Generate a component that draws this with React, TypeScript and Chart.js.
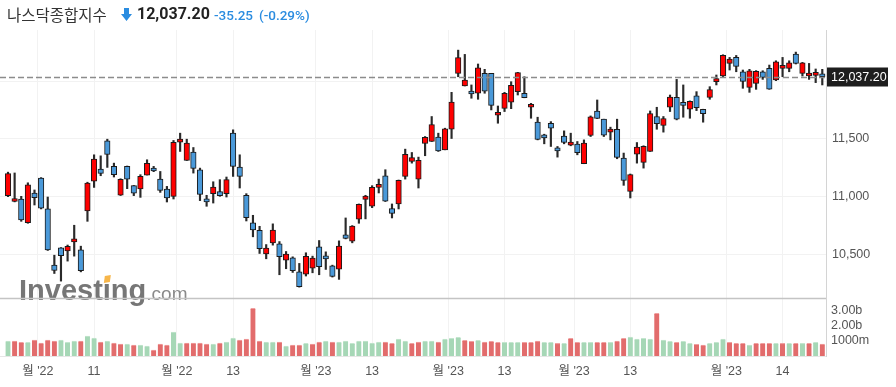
import React, { useEffect, useRef } from 'react';
import { Chart, registerables } from 'chart.js';

Chart.register(...registerables);

// ---- Data (Nasdaq Composite, daily, Oct 25 2022 – Apr 24 2023) ----
const opens = [
  11009, 10958, 10980, 10775, 11032, 11161, 10894, 10408, 10558, 10532,
  10609, 10540, 10877, 11135, 11239, 11483, 11262, 11014, 11262, 11095,
  11066, 11187, 11239, 11152, 11066, 11003, 11471, 11313, 11385, 11233,
  10971, 11026, 11043, 11026, 11549, 11256, 11012, 10773, 10710, 10506,
  10601, 10592, 10452, 10472, 10351, 10331, 10382, 10566, 10480, 10403,
  10374, 10670, 10615, 10805, 10977, 10917, 11081, 11181, 10897, 10937,
  11175, 11305, 11152, 11460, 11477, 11515, 11405, 11583, 12066, 11957,
  11902, 11894, 12066, 12066, 11704, 11764, 11816, 11908, 11894, 11773,
  11644, 11523, 11635, 11414, 11523, 11445, 11454, 11285, 11529, 11741,
  11670, 11558, 11583, 11334, 11046, 11368, 11296, 11391, 11693, 11615,
  11773, 11859, 11816, 11756, 11871, 11756, 11859, 11994, 12043, 12152,
  12204, 12080, 11945, 11980, 12080, 12109, 12009, 12109, 12109, 12233,
  12066, 12043, 12049, 12060,
];
const highs = [
  11212, 11205, 11003, 11120, 11058, 11165, 10997, 10494, 10560, 10582,
  10753, 10572, 11125, 11362, 11353, 11497, 11290, 11155, 11265, 11097,
  11190, 11319, 11262, 11218, 11089, 11486, 11549, 11497, 11425, 11247,
  11012, 11129, 11147, 11170, 11578, 11362, 11026, 10839, 10744, 10586,
  10765, 10612, 10526, 10480, 10423, 10515, 10486, 10621, 10523, 10408,
  10618, 10816, 10750, 10937, 11012, 11095, 11152, 11233, 10937, 11144,
  11411, 11382, 11342, 11520, 11693, 11549, 11592, 11902, 12267, 12230,
  11966, 12147, 12101, 12066, 11784, 11902, 11994, 12075, 12037, 11807,
  11687, 11540, 11649, 11434, 11569, 11549, 11477, 11491, 11698, 11836,
  11670, 11601, 11670, 11377, 11196, 11468, 11440, 11741, 11773, 11693,
  11879, 12014, 11966, 11828, 11908, 11756, 11951, 12052, 12227, 12204,
  12221, 12095, 12101, 12090, 12089, 12138, 12175, 12204, 12175, 12250,
  12161, 12152, 12104, 12101,
];
const lows = [
  11000, 10955, 10787, 10770, 10928, 10894, 10535, 10336, 10270, 10443,
  10486, 10350, 10787, 11080, 11181, 11253, 11170, 11010, 11069, 11009,
  10994, 11187, 11216, 11037, 10954, 10980, 11391, 11313, 11204, 10966,
  10917, 10945, 11003, 10997, 11175, 11075, 10790, 10653, 10509, 10463,
  10581, 10325, 10377, 10345, 10218, 10314, 10342, 10325, 10371, 10305,
  10285, 10635, 10601, 10770, 10808, 10905, 11032, 10958, 10816, 10894,
  11152, 11290, 11075, 11354, 11477, 11391, 11405, 11503, 12037, 11957,
  11851, 11842, 11894, 11750, 11635, 11736, 11761, 11879, 11855, 11678,
  11491, 11457, 11434, 11342, 11457, 11440, 11362, 11285, 11520, 11675,
  11520, 11491, 11328, 11098, 10989, 11290, 11247, 11391, 11583, 11558,
  11736, 11664, 11687, 11678, 11744, 11644, 11842, 11966, 12037, 12095,
  12080, 11937, 11902, 11928, 12014, 11928, 12003, 12037, 12080, 12147,
  12043, 12014, 11986, 11966,
];
const closes = [
  11199, 10972, 10800, 11102, 10992, 10900, 10540, 10362, 10490, 10570,
  10625, 10360, 11118, 11325, 11200, 11365, 11190, 11150, 11152, 11030,
  11175, 11288, 11222, 11055, 10990, 11470, 11485, 11463, 11245, 11020,
  10955, 11083, 11008, 11148, 11262, 11175, 10818, 10712, 10550, 10555,
  10712, 10482, 10503, 10360, 10222, 10485, 10470, 10395, 10462, 10310,
  10572, 10640, 10745, 10933, 11005, 11080, 11100, 10962, 10856, 11142,
  11366, 11338, 11315, 11514, 11624, 11395, 11586, 11818, 12202, 12008,
  11888, 12115, 11912, 11790, 11720, 11893, 11962, 12072, 11857, 11789,
  11494, 11508, 11592, 11396, 11468, 11457, 11380, 11463, 11690, 11676,
  11531, 11577, 11340, 11140, 11190, 11429, 11435, 11718, 11632, 11676,
  11860, 11670, 11788, 11824, 11769, 11717, 11926, 12014, 12222, 12189,
  12126, 11997, 12088, 12084, 12031, 11929, 12166, 12123, 12158, 12153,
  12157, 12060, 12072, 12037.2,
];
// volume in billions
const volumes = [
  1.00, 1.00, 0.91, 0.91, 1.07, 0.87, 1.07, 1.00, 1.07, 0.91,
  1.00, 1.00, 1.33, 1.20, 0.93, 1.00, 0.87, 0.80, 0.80, 0.73,
  0.73, 0.67, 0.40, 0.80, 0.73, 1.60, 0.87, 0.87, 0.87, 0.87,
  0.80, 0.80, 0.87, 0.93, 1.20, 1.07, 1.13, 3.18, 1.00, 0.93,
  0.93, 0.93, 0.67, 0.73, 0.73, 0.84, 0.80, 0.93, 1.00, 0.93,
  0.93, 1.00, 0.84, 1.00, 1.00, 0.87, 0.93, 0.93, 0.84, 1.13,
  1.00, 0.84, 0.93, 1.00, 1.00, 0.93, 1.13, 1.18, 1.24, 1.04,
  0.98, 1.04, 0.93, 0.98, 0.91, 0.91, 0.91, 0.91, 0.91, 0.91,
  1.00, 0.91, 0.91, 0.84, 0.84, 1.18, 0.91, 0.91, 0.91, 0.91,
  0.91, 0.91, 1.00, 1.18, 1.27, 1.13, 1.18, 1.13, 2.84, 1.07,
  0.98, 0.91, 0.98, 0.84, 0.78, 0.73, 0.84, 0.91, 1.13, 0.91,
  0.84, 0.84, 0.73, 0.84, 0.84, 0.84, 0.84, 0.84, 0.84, 0.84,
  0.84, 0.84, 0.91, 0.80,
];

const xTickValues = [4.5, 13, 25.5, 34, 46.5, 55, 66.5, 75, 85.5, 94, 108.5, 117];
const xTickLabels = ["월 '22", '11', "월 '22", '13', "월 '23", '13', "월 '23", '13', "월 '23", '13', "월 '23", '14'];
const priceTicks = [10500, 11000, 11500, 12000];
const volumeTicks = [1, 2, 3];
const volumeTickLabels = ['1000m', '2.00b', '3.00b'];

const titleText = '나스닥종합지수';
const lastPrice = 12037.2;
const lastPriceText = '12,037.20';
const changeText = '-35.25';
const changePctText = '(-0.29%)';

const UP = '#ff0000';
const DOWN = '#4a99d9';
const VOL_UP = '#a6d7b6';
const VOL_DOWN = '#e26c6c';
const BLUE_TEXT = '#2a8ce0';
const FONT = "'Liberation Sans', Arial, 'Noto Sans CJK KR', sans-serif";

const fmt = (v: number) => v.toLocaleString('en-US', { maximumFractionDigits: 2, minimumFractionDigits: 0 });

export default function App() {
  const canvasRef = useRef<HTMLCanvasElement | null>(null);

  useEffect(() => {
    const canvas = canvasRef.current;
    if (!canvas) return;

    const idx = closes.map((_, i) => i);
    const bodyColors = idx.map((i) => (closes[i] >= opens[i] ? UP : DOWN));
    const volColors = idx.map((i) => (i === 0 || closes[i] >= closes[i - 1] ? VOL_UP : VOL_DOWN));
    const volTopColors = idx.map((i) => (i === 0 || closes[i] >= closes[i - 1] ? '#c4e6cf' : '#f0a0a0'));

    const overlay = {
      id: 'overlay',
      beforeDatasetsDraw(chart: any) {
        const { ctx, chartArea } = chart;
        const yv = chart.scales.yv;
        ctx.save();
        // watermark
        ctx.textBaseline = 'alphabetic';
        ctx.fillStyle = '#767676';
        ctx.font = `bold 29px ${FONT}`;
        ctx.fillText('Investing', 19, 300);
        const w = ctx.measureText('Investing').width;
        const wBefore = ctx.measureText('Invest').width;
        const wI = ctx.measureText('i').width;
        ctx.fillStyle = '#8a8a8a';
        ctx.font = `19px ${FONT}`;
        ctx.fillText('.com', 19 + w, 300);
        // orange accent replacing the dot of the i
        const cx = 19 + wBefore + wI / 2;
        ctx.fillStyle = '#ffffff';
        ctx.fillRect(cx - 5, 275, 10, 8);
        ctx.fillStyle = '#f7b64a';
        ctx.beginPath();
        ctx.moveTo(cx - 2, 276);
        ctx.lineTo(cx + 4, 275);
        ctx.lineTo(cx + 3, 282);
        ctx.lineTo(cx - 3, 283);
        ctx.closePath();
        ctx.fill();
        // pane separator
        ctx.strokeStyle = '#c4c4c4';
        ctx.lineWidth = 1.5;
        ctx.beginPath();
        ctx.moveTo(chartArea.left, yv.top + 0.5);
        ctx.lineTo(chartArea.right, yv.top + 0.5);
        ctx.stroke();
        ctx.restore();
      },
      afterDraw(chart: any) {
        const { ctx, chartArea } = chart;
        const y = chart.scales.y;
        const py = Math.round(y.getPixelForValue(lastPrice)) + 0.5;
        ctx.save();
        ctx.strokeStyle = '#8c8c8c';
        ctx.lineWidth = 1.5;
        ctx.setLineDash([6, 3]);
        ctx.beginPath();
        ctx.moveTo(chartArea.left, py);
        ctx.lineTo(chartArea.right, py);
        ctx.stroke();
        ctx.setLineDash([]);
        ctx.fillStyle = '#1e1e1e';
        ctx.fillRect(chartArea.right + 1, py - 10, 61, 19);
        ctx.fillStyle = '#ffffff';
        ctx.font = `12.5px ${FONT}`;
        ctx.textBaseline = 'middle';
        ctx.textAlign = 'left';
        ctx.fillText(lastPriceText, chartArea.right + 5, py);
        ctx.restore();
      },
    };

    const chart = new Chart(canvas, {
      type: 'bar',
      data: {
        datasets: [
          {
            label: 'wick',
            data: idx.map((i) => ({ x: i, y: [lows[i], highs[i]] })) as any,
            backgroundColor: '#2a2a2a',
            barThickness: 1.5,
            grouped: false,
            yAxisID: 'y',
            order: 2,
          },
          {
            label: 'body',
            data: idx.map((i) => ({ x: i, y: [opens[i], closes[i]] })) as any,
            backgroundColor: bodyColors,
            borderColor: '#1a1a1a',
            borderWidth: 1,
            borderSkipped: false,
            barThickness: 5.5,
            minBarLength: 3,
            grouped: false,
            yAxisID: 'y',
            order: 1,
          },
          {
            label: 'volume',
            data: idx.map((i) => ({ x: i, y: volumes[i] })) as any,
            backgroundColor: volColors,
            borderColor: volTopColors,
            borderWidth: { top: 1, left: 0, right: 0, bottom: 0 },
            borderSkipped: 'bottom',
            barThickness: 5,
            grouped: false,
            yAxisID: 'yv',
            order: 3,
          },
        ],
      },
      options: {
        animation: false,
        responsive: true,
        maintainAspectRatio: false,
        layout: { padding: { top: 30, left: 0, right: 0, bottom: 0 } },
        plugins: { legend: { display: false }, tooltip: { enabled: false } },
        scales: {
          x: {
            type: 'linear',
            min: -1.21,
            max: 123.56,
            offset: false,
            grid: { color: '#f2f2f2', drawTicks: false, offset: false },
            border: { color: '#e6e6e6' },
            afterBuildTicks: (scale: any) => {
              scale.ticks = xTickValues.map((v) => ({ value: v }));
            },
            afterFit: (scale: any) => {
              scale.height = 31;
            },
            ticks: {
              autoSkip: false,
              maxRotation: 0,
              padding: 8,
              color: '#555',
              font: { size: 12.5, family: FONT },
              callback: (_v: any, i: number) => xTickLabels[i],
            },
          },
          y: {
            type: 'linear',
            position: 'right',
            stack: 'panes',
            stackWeight: 268,
            min: 10124,
            max: 12441,
            grid: { color: '#f2f2f2', drawTicks: false },
            border: { color: '#d4d4d4' },
            afterBuildTicks: (scale: any) => {
              scale.ticks = priceTicks.map((v) => ({ value: v }));
            },
            afterFit: (scale: any) => {
              scale.width = 70;
            },
            ticks: {
              autoSkip: false,
              padding: 6,
              color: '#555',
              font: { size: 12.5, family: FONT },
              callback: (v: any) => (v === 12000 ? '' : fmt(Number(v))),
            },
          },
          yv: {
            type: 'linear',
            position: 'right',
            stack: 'panes',
            stackWeight: 58,
            min: 0,
            max: 3.87,
            grid: { display: false, drawTicks: false },
            border: { color: '#d4d4d4' },
            afterBuildTicks: (scale: any) => {
              scale.ticks = volumeTicks.map((v) => ({ value: v }));
            },
            afterFit: (scale: any) => {
              scale.width = 70;
            },
            ticks: {
              autoSkip: false,
              padding: 5,
              color: '#555',
              font: { size: 12.5, family: FONT },
              callback: (_v: any, i: number) => volumeTickLabels[i],
            },
          },
        },
      } as any,
      plugins: [overlay],
    });

    return () => chart.destroy();
  }, []);

  return (
    <div style={{ position: 'absolute', left: 0, top: 0, width: 896, height: 387, background: '#fff', overflow: 'hidden' }}>
      <canvas ref={canvasRef} style={{ position: 'absolute', left: 0, top: 0 }} />
      <div style={{ position: 'absolute', left: 0, top: 0, width: 896, height: 28, pointerEvents: 'none' }}>
        <span style={{ position: 'absolute', left: 7, top: 3, fontFamily: "'Noto Sans CJK KR', sans-serif", fontSize: 15.5, lineHeight: '22px', color: '#333' }}>
          {titleText}
        </span>
        <svg style={{ position: 'absolute', left: 121, top: 8 }} width="11" height="13" viewBox="0 0 11 13">
          <path d="M3 0 H8 V6 H11 L5.5 13 L0 6 H3 Z" fill={BLUE_TEXT} />
        </svg>
        <span style={{ position: 'absolute', left: 137, top: 3, fontFamily: "Roboto, 'Liberation Sans', sans-serif", fontWeight: 700, fontSize: 16, lineHeight: '22px', color: '#222' }}>
          {lastPriceText}
        </span>
        <span style={{ position: 'absolute', left: 214, top: 4, fontFamily: "Roboto, 'Liberation Sans', sans-serif", fontWeight: 500, fontSize: 13.5, lineHeight: '22px', color: BLUE_TEXT }}>
          {changeText}
        </span>
        <span style={{ position: 'absolute', left: 259, top: 4, fontFamily: "Roboto, 'Liberation Sans', sans-serif", fontWeight: 500, fontSize: 13.5, lineHeight: '22px', color: BLUE_TEXT }}>
          {changePctText}
        </span>
      </div>
    </div>
  );
}
